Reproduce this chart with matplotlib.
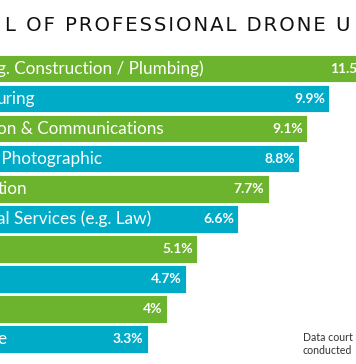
import matplotlib
matplotlib.use("Agg")
import matplotlib.pyplot as plt
import numpy as np

# valores (ordem de cima para baixo)
categorias = ["g. Construction / Plumbing)", "uring", "on & Communications",
              " Photographic", "tion", "al Services (e.g. Law)", "", "", "", "e"]
valores = [11.5, 9.9, 9.1, 8.8, 7.7, 6.6, 5.1, 4.7, 4.0, 3.3]
rotulos = ["11.5%", "9.9%", "9.1%", "8.8%", "7.7%", "6.6%", "5.1%", "4.7%", "4%", "3.3%"]
titulo = "L OF PROFESSIONAL DRONE U"
rodape = ["Data court", "conducted"]

verde = "#6cb32e"
azul = "#00abc8"

fig = plt.figure(figsize=(3.56, 3.64), dpi=100)
ax = fig.add_axes([0, 0, 1, 1])

y = np.arange(len(valores))
cores = [verde if i % 2 == 0 else azul for i in y]
inicio = -4  # as barras comecam fora do recorte
ax.barh(y, np.array(valores) - inicio, left=inicio, height=0.915,
        color=cores, edgecolor="white", linewidth=0.6)

ax.set_xlim(-2.074, 10.88)
ax.set_ylim(9.83, -2.279)
ax.axis("off")

for i, (v, r, c) in enumerate(zip(valores, rotulos, categorias)):
    ax.text(v - 0.15, i, r, color="white", fontsize=10, fontweight="bold",
            ha="right", va="center", family="Lato")
    ax.text(-2.17, i, c, color="white", fontsize=12.3,
            ha="left", va="center", family="Lato")

# espacamento entre letras do titulo
titulo_esp = "\u200a".join(titulo)
fig.text(0.014, 0.931, titulo_esp, fontsize=14.1, color="#111111",
         ha="left", va="center", family="DejaVu Sans")
fig.text(0.851, 0.074, rodape[0], fontsize=7.6, color="#333333",
         ha="left", va="center", family="Lato")
fig.text(0.851, 0.038, rodape[1], fontsize=7.6, color="#333333",
         ha="left", va="center", family="Lato")

fig.savefig("out.png", dpi=100)
